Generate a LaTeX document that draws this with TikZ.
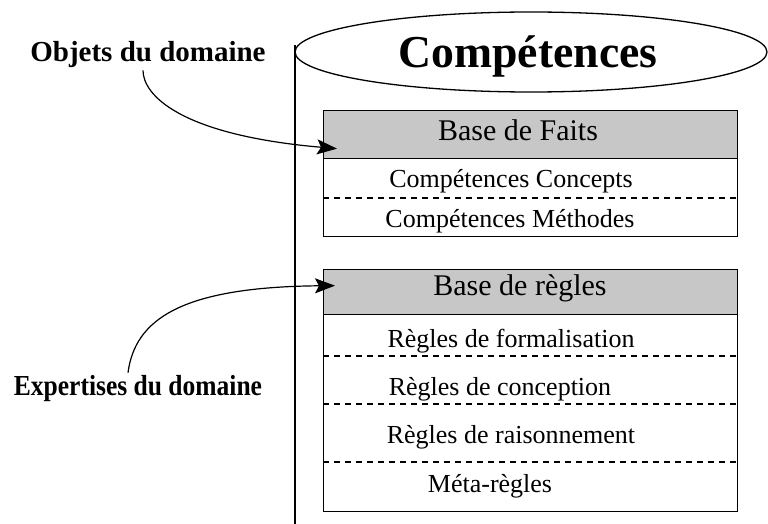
\documentclass[tikz,border=0pt]{standalone}
\usepackage{fontspec}
\setmainfont{Liberation Serif}
\usetikzlibrary{arrows.meta,shapes.geometric,calc}
\tikzset{
  box/.style={draw, line width=1.3pt, minimum width=414pt, inner sep=0pt, anchor=north west},
  hdr/.style={box, fill=black!22},
  sep/.style={line width=1.1pt, dash pattern=on 6pt off 5pt},
  lbl/.style={font=\bfseries\fontsize{29}{32}\selectfont, inner sep=0pt, anchor=base},
  htxt/.style={font=\fontsize{30}{34}\selectfont, inner sep=0pt, anchor=base},
  itxt/.style={font=\fontsize{26}{30}\selectfont, inner sep=0pt, anchor=base},
  arr/.style={line width=1.2pt, -{Stealth[length=20pt,width=15pt,inset=4pt]}},
}
\begin{document}
\begin{tikzpicture}[x=1pt,y=-1pt]
\useasboundingbox (0,0) rectangle (768,524);
% cylinder
\draw[line width=1.3pt] (531,52) ellipse [x radius=236, y radius=40];
\draw[line width=1.3pt] (295,45) -- (295,524);
\node[font=\bfseries\fontsize{45.7}{50}\selectfont, inner sep=0pt, anchor=base] (title) at (528,68) {Compétences};
% Base de faits
\node[hdr, minimum height=48pt] (bfh) at (323,110) {};
\node[box, minimum height=78pt] (bfb) at (323,158) {};
\draw[sep] (bfb.west |- 0,198) -- (bfb.east |- 0,198);
\node[htxt] (bft) at (518,140) {Base de Faits};
\node[itxt] (cc) at (511,187) {Compétences Concepts};
\node[itxt] (cm) at (510,227) {Compétences Méthodes};
% Base de regles
\node[hdr, minimum height=45pt] (brh) at (323,269) {};
\node[box, minimum height=197pt] (brb) at (323,314) {};
\draw[sep] (brb.west |- 0,356) -- (brb.east |- 0,356);
\draw[sep] (brb.west |- 0,404) -- (brb.east |- 0,404);
\draw[sep] (brb.west |- 0,462) -- (brb.east |- 0,462);
\node[htxt] (brt) at (520,295) {Base de règles};
\node[itxt] (r1) at (511,347) {Règles de formalisation};
\node[itxt] (r2) at (500,395) {Règles de conception};
\node[itxt] (r3) at (511,443) {Règles de raisonnement};
\node[itxt] (r4) at (490,492) {Méta-règles};
% labels
\node[lbl] (obj) at (148,62) {Objets du domaine};
\node[lbl] (exp) at (138,395) {\scalebox{0.88}[1]{Expertises du domaine}};
\coordinate (t1) at ($(bfh.west)+(14,14)$);
\coordinate (t2) at ($(brh.west)+(12,-6.5)$);
\draw[arr] ([xshift=-5pt,yshift=-2pt]obj.south) .. controls (143,95) and (180,135) .. (t1);
\draw[arr] ([xshift=-10pt,yshift=2pt]exp.north) .. controls (135,320) and (180,287) .. (t2);
\end{tikzpicture}
\end{document}
